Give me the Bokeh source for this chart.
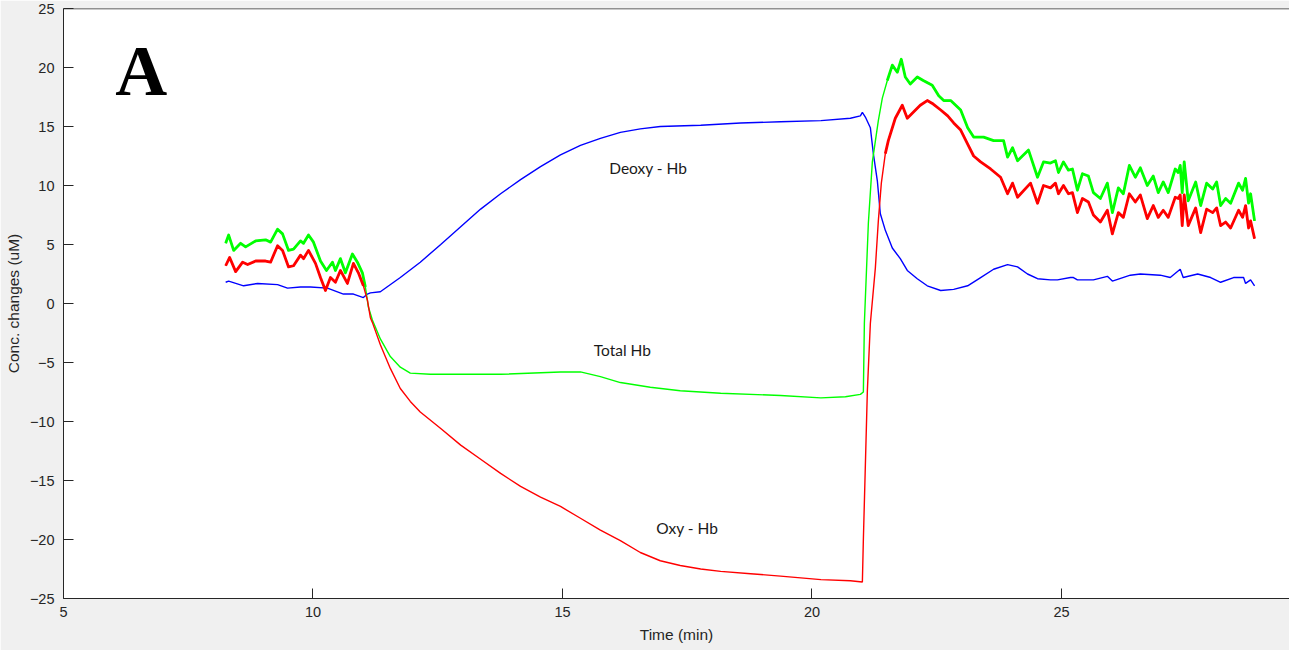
from bokeh.plotting import figure
from bokeh.models import Range1d, FixedTicker, Span
from bokeh.core.properties import value
from bokeh.embed import file_html
from bokeh.resources import INLINE

# ---------------- data ----------------
deoxy_points = [
    (8.25, 1.8), (8.31, 1.9), (8.61, 1.5), (8.89, 1.7), (9.29, 1.6), (9.49, 1.3),
    (9.75, 1.4), (9.95, 1.4), (10.29, 1.3), (10.61, 0.8), (10.81, 0.8), (11.01, 0.5),
    (11.09, 0.8), (11.15, 0.9), (11.35, 1.0), (11.75, 2.2), (12.15, 3.5), (12.56, 5.0),
    (12.96, 6.5), (13.36, 8.0), (13.76, 9.3), (14.16, 10.5), (14.56, 11.6), (14.96, 12.6),
    (15.36, 13.4), (15.76, 14.0), (16.16, 14.5), (16.56, 14.8), (16.96, 15.0), (17.77, 15.1),
    (18.57, 15.3), (19.37, 15.4), (20.18, 15.5), (20.77, 15.7), (20.97, 15.9), (21.01, 16.2),
    (21.07, 15.8), (21.17, 14.9), (21.23, 12.7), (21.31, 10.4), (21.37, 7.6), (21.47, 6.2),
    (21.61, 4.7), (21.77, 3.8), (21.91, 2.8), (22.11, 2.1), (22.31, 1.5), (22.58, 1.1),
    (22.84, 1.2), (23.12, 1.5), (23.38, 2.2), (23.64, 2.9), (23.92, 3.3), (24.12, 3.1),
    (24.32, 2.5), (24.52, 2.1), (24.78, 2.0), (24.92, 2.0), (25.18, 2.2), (25.24, 2.2),
    (25.32, 2.0), (25.38, 2.0), (25.64, 2.0), (25.92, 2.3), (26.02, 1.9), (26.38, 2.4),
    (26.58, 2.5), (26.98, 2.4), (27.18, 2.2), (27.38, 2.9), (27.44, 2.2), (27.73, 2.5),
    (27.99, 2.2), (28.19, 1.8), (28.45, 2.2), (28.65, 2.2), (28.69, 1.7), (28.79, 2.0),
    (28.87, 1.5),
]

oxy_points = [
    (8.25, 3.2), (8.33, 3.9), (8.45, 2.7), (8.59, 3.5), (8.69, 3.3), (8.85, 3.6),
    (9.05, 3.6), (9.15, 3.5), (9.29, 4.9), (9.39, 4.5), (9.51, 3.1), (9.61, 3.2),
    (9.75, 4.1), (9.81, 3.8), (9.91, 4.5), (10.05, 3.4), (10.15, 2.2), (10.25, 1.1),
    (10.35, 2.2), (10.45, 1.8), (10.55, 2.8), (10.69, 1.7), (10.81, 3.4), (10.91, 2.6),
    (11.01, 1.5), (11.09, 0.3), (11.15, -1.2), (11.19, -1.6), (11.35, -3.5), (11.55, -5.5),
    (11.75, -7.2), (11.95, -8.3), (12.15, -9.2), (12.56, -10.6), (12.96, -12.0), (13.36, -13.2),
    (13.76, -14.4), (14.16, -15.5), (14.56, -16.4), (14.96, -17.2), (15.36, -18.2), (15.76, -19.2),
    (16.16, -20.1), (16.56, -21.1), (16.96, -21.8), (17.36, -22.2), (17.77, -22.5), (18.17, -22.7),
    (18.77, -22.9), (19.37, -23.1), (20.18, -23.4), (20.77, -23.5), (21.01, -23.6), (21.03, -20.0),
    (21.11, -7.4), (21.17, -1.7), (21.27, 3.0), (21.33, 7.0), (21.39, 10.2), (21.47, 12.7),
    (21.53, 13.8), (21.67, 15.7), (21.81, 16.8), (21.91, 15.7), (22.03, 16.2), (22.17, 16.8),
    (22.31, 17.2), (22.43, 16.9), (22.58, 16.4), (22.72, 15.9), (22.84, 15.3), (22.98, 14.7),
    (23.12, 13.5), (23.24, 12.5), (23.38, 12.0), (23.58, 11.4), (23.78, 10.7), (23.92, 9.3),
    (24.02, 10.2), (24.12, 9.0), (24.38, 10.2), (24.52, 8.5), (24.64, 10.0), (24.78, 9.8),
    (24.88, 10.2), (24.94, 9.3), (25.04, 10.0), (25.14, 9.3), (25.22, 9.4), (25.32, 7.7),
    (25.42, 8.9), (25.54, 8.6), (25.64, 7.5), (25.78, 6.9), (25.92, 7.9), (26.02, 5.9),
    (26.14, 7.7), (26.24, 7.3), (26.36, 9.3), (26.48, 8.6), (26.58, 9.2), (26.72, 7.2),
    (26.84, 8.3), (26.94, 7.3), (27.04, 7.9), (27.14, 7.3), (27.28, 9.0), (27.34, 8.9),
    (27.38, 9.2), (27.42, 6.6), (27.46, 9.2), (27.54, 6.6), (27.69, 8.1), (27.79, 6.0),
    (27.91, 8.0), (28.03, 7.7), (28.11, 8.1), (28.19, 6.6), (28.29, 6.9), (28.39, 6.4),
    (28.55, 7.9), (28.63, 7.3), (28.69, 8.3), (28.75, 6.4), (28.79, 7.0), (28.87, 5.5),
]

total_points = [
    (8.25, 5.1), (8.31, 5.8), (8.41, 4.5), (8.55, 5.1), (8.65, 4.8), (8.85, 5.3),
    (9.05, 5.4), (9.15, 5.2), (9.29, 6.3), (9.39, 5.9), (9.51, 4.5), (9.61, 4.6),
    (9.75, 5.3), (9.81, 5.1), (9.91, 5.8), (10.01, 5.2), (10.15, 3.6), (10.27, 2.8),
    (10.39, 3.5), (10.45, 2.8), (10.55, 3.8), (10.65, 2.6), (10.79, 4.2), (10.89, 3.5),
    (10.99, 2.6), (11.05, 1.4), (11.11, -0.3), (11.19, -1.4), (11.35, -3.0), (11.55, -4.5),
    (11.75, -5.4), (11.95, -5.9), (12.35, -6.0), (13.76, -6.0), (14.96, -5.8), (15.36, -5.8),
    (15.76, -6.2), (16.16, -6.7), (16.76, -7.1), (17.36, -7.4), (18.17, -7.6), (19.37, -7.8),
    (20.18, -8.0), (20.67, -7.9), (20.97, -7.7), (21.03, -7.5), (21.05, -1.7), (21.13, 6.8),
    (21.21, 12.0), (21.33, 15.5), (21.41, 17.4), (21.51, 18.9), (21.61, 20.2), (21.71, 19.6),
    (21.79, 20.7), (21.87, 19.2), (21.97, 18.6), (22.11, 19.2), (22.23, 18.9), (22.41, 18.5),
    (22.54, 17.6), (22.64, 17.2), (22.78, 17.2), (22.98, 16.4), (23.12, 14.9), (23.24, 14.1),
    (23.44, 14.1), (23.64, 13.8), (23.84, 13.8), (23.92, 12.4), (24.02, 13.2), (24.12, 12.1),
    (24.34, 13.0), (24.52, 10.7), (24.64, 12.0), (24.78, 11.9), (24.88, 12.1), (24.94, 11.1),
    (25.04, 12.0), (25.14, 11.3), (25.22, 11.4), (25.32, 9.6), (25.42, 11.0), (25.54, 10.8),
    (25.64, 9.4), (25.78, 8.9), (25.92, 10.2), (26.02, 7.7), (26.14, 9.8), (26.24, 9.3),
    (26.36, 11.7), (26.48, 10.7), (26.58, 11.5), (26.72, 10.0), (26.84, 10.8), (26.94, 9.4),
    (27.04, 10.3), (27.14, 9.4), (27.28, 11.4), (27.34, 11.1), (27.38, 11.7), (27.42, 9.4),
    (27.46, 12.0), (27.54, 8.7), (27.69, 10.3), (27.79, 8.3), (27.91, 10.2), (28.03, 9.7),
    (28.11, 10.3), (28.19, 8.3), (28.29, 8.9), (28.39, 8.5), (28.55, 10.2), (28.63, 9.6),
    (28.69, 10.6), (28.75, 8.5), (28.79, 9.3), (28.87, 7.0),
]

x_ticks = [5, 10, 15, 20, 25]
y_ticks = [-25, -20, -15, -10, -5, 0, 5, 10, 15, 20, 25]

annotations = [
    ("Deoxy - Hb", 16.72, 11.5),
    ("Total Hb", 16.20, -3.9),
    ("Oxy - Hb", 17.50, -19.0),
]
panel_label = ("A", 6.56, 19.7)

# ---------------- figure ----------------
AX = "#262626"
p = figure(width=1289, height=650, output_backend="svg", toolbar_location=None,
           x_range=Range1d(5, 29.57), y_range=Range1d(-25, 25),
           min_border_left=63, min_border_right=0, min_border_top=8, min_border_bottom=52)
p.border_fill_color = "#f0f0f0"
p.background_fill_color = "white"
p.outline_line_color = None
p.grid.visible = False

for ax in (p.xaxis[0], p.yaxis[0]):
    ax.axis_line_color = AX
    ax.axis_line_width = 1
    ax.major_tick_line_color = AX
    ax.major_tick_in = 10
    ax.major_tick_out = 0
    ax.minor_tick_line_color = None
    ax.major_label_text_font = "Liberation Sans"
    ax.major_label_text_font_size = "14.5px"
    ax.major_label_text_color = AX
    ax.axis_label_text_font = "Liberation Sans"
    ax.axis_label_text_font_size = "15.5px"
    ax.axis_label_text_font_style = "normal"
    ax.axis_label_text_color = AX

p.xaxis.ticker = FixedTicker(ticks=x_ticks)
p.yaxis.ticker = FixedTicker(ticks=y_ticks)
p.xaxis.axis_label = "Time (min)"
p.yaxis.axis_label = "Conc. changes (uM)"
p.xaxis.major_label_standoff = 8
p.yaxis.major_label_standoff = 9
p.xaxis.axis_label_standoff = 6
p.yaxis.axis_label_standoff = 5

p.add_layout(Span(location=25, dimension="width", line_color=AX, line_width=1.5))

def unzip(points):
    return [a for a, _ in points], [b for _, b in points]

def noisy_parts(points, t_lo, t_hi):
    pre = [q for q in points if q[0] <= t_lo]
    post = [q for q in points if q[0] >= t_hi]
    return pre, post

# blue: thin everywhere
bx, by = unzip(deoxy_points)
p.line(bx, by, line_color="#0000ff", line_width=1.4)

for pts, color in ((total_points, "#00ff00"), (oxy_points, "#ff0000")):
    xs, ys = unzip(pts)
    p.line(xs, ys, line_color=color, line_width=1.4)
    pre, post = noisy_parts(pts, 11.05, 21.45)
    for part in (pre, post):
        px, py = unzip(part)
        p.line(px, py, line_color=color, line_width=2.8, line_join="round")

for txt, tx, ty in annotations:
    p.text(x=[tx], y=[ty], text=[txt], text_font=value("Lato"), text_font_size="15.5px",
           text_color="#1a1a1a", text_align="center", text_baseline="middle")

p.text(x=[panel_label[1]], y=[panel_label[2]], text=[panel_label[0]],
       text_font=value("Liberation Serif"), text_font_style="bold", text_font_size="72px",
       text_color="black", text_align="center", text_baseline="alphabetic")

open("out.html", "w").write(file_html(p, INLINE))
